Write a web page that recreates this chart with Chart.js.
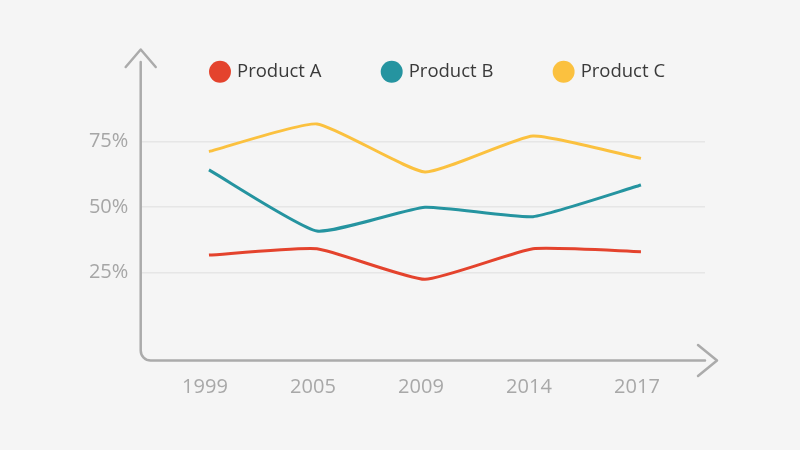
<!DOCTYPE html>
<html>
<head>
<meta charset="utf-8">
<script src="https://cdn.jsdelivr.net/npm/chart.js@4.4.1/dist/chart.umd.min.js"></script>
<style>
  html, body { margin: 0; padding: 0; background: #f5f5f5; }
  #wrap { width: 800px; height: 450px; }
</style>
</head>
<body>
<div id="wrap"><canvas id="c" width="800" height="450"></canvas></div>
<script>
const years = ['1999', '2005', '2009', '2014', '2017'];
const seriesNames = ['Product A', 'Product B', 'Product C'];
const productA = [31.6, 34.0, 22.3, 34.0, 32.9];
const productB = [64.2, 40.8, 49.9, 46.3, 58.4];
const productC = [71.2, 81.8, 63.4, 77.2, 68.6];
const yTickValues = [25, 50, 75];
const colors = ['#e4432d', '#2594a0', '#fbc13f'];

const seriesValues = [productA, productB, productC];

Chart.defaults.font.family = "'Open Sans', 'Noto Sans', sans-serif";

const axisArrows = {
  id: 'axisArrows',
  beforeInit(chart) {
    const lg = chart.legend;
    if (lg) {
      const f = lg.fit;
      lg.fit = function () { f.call(this); this.height = 100; };
    }
  },
  afterLayout(chart) {
    const lg = chart.legend;
    if (lg && lg.lineWidths) {
      const pad = lg.options.labels.padding;
      const bw = 15.5;
      const targetStart = 220 - bw / 2;
      lg.right = 800;
      lg.left = 2 * targetStart - pad - lg.right + lg.lineWidths[0];
    }
  },
  beforeDatasetsDraw(chart) {
    const { ctx, chartArea } = chart;
    const L = chartArea.left, B = chartArea.bottom + 0.5, R = chartArea.right;
    const r = 10;
    ctx.save();
    ctx.strokeStyle = '#ababab';
    ctx.lineWidth = 2.5;
    ctx.lineCap = 'round';
    ctx.lineJoin = 'round';
    ctx.beginPath();
    ctx.moveTo(L, 62);
    ctx.lineTo(L, B - r);
    ctx.arcTo(L, B, L + r, B, r);
    ctx.lineTo(R, B);
    ctx.stroke();
    // vertical arrow head
    ctx.beginPath();
    ctx.moveTo(L - 15, 67);
    ctx.lineTo(L, 49.5);
    ctx.lineTo(L + 15, 67);
    ctx.stroke();
    // horizontal arrow head
    ctx.beginPath();
    ctx.moveTo(R - 7, B - 15.5);
    ctx.lineTo(R + 12, B);
    ctx.lineTo(R - 7, B + 15.5);
    ctx.stroke();
    ctx.restore();
  }
};

new Chart(document.getElementById('c'), {
  type: 'line',
  data: {
    datasets: seriesNames.map((name, k) => ({
      label: name,
      data: seriesValues[k].map((v, i) => ({ x: i, y: v })),
      borderColor: colors[k],
      backgroundColor: colors[k],
      borderWidth: 3,
      pointRadius: 0,
      pointHoverRadius: 0,
      tension: 0.15,
      fill: false
    }))
  },
  options: {
    responsive: false,
    animation: false,
    events: [],
    layout: { padding: { left: 0, right: 95, top: 0, bottom: 0 } },
    scales: {
      x: {
        type: 'linear',
        min: -0.632,
        max: 4.593,
        afterFit(scale) { scale.height = 90; },
        afterBuildTicks(scale) { scale.ticks = years.map((_, i) => ({ value: i })); },
        grid: { display: false, drawTicks: false },
        border: { display: false },
        ticks: {
          callback: (v) => years[v],
          color: '#a8a8a8',
          font: { size: 20 },
          padding: 15,
          labelOffset: -4,
          maxRotation: 0,
          autoSkip: false
        }
      },
      y: {
        type: 'linear',
        min: -8.58,
        max: 90.96,
        afterFit(scale) { scale.width = 140.7; },
        afterBuildTicks(scale) { scale.ticks = yTickValues.map(v => ({ value: v })); },
        grid: { color: '#e6e6e6', lineWidth: 1.5, drawTicks: false },
        border: { display: false },
        ticks: {
          callback: (v) => v + '%',
          color: '#a6a6a6',
          font: { size: 20 },
          padding: 12.4
        }
      }
    },
    plugins: {
      tooltip: { enabled: false },
      legend: {
        display: true,
        position: 'top',
        labels: {
          usePointStyle: true,
          pointStyle: 'circle',
          boxHeight: 15.5,
          boxWidth: 15.5,
          padding: 62.5,
          color: '#3a3a3a',
          font: { size: 18.5 },
          generateLabels(chart) {
            return Chart.defaults.plugins.legend.labels.generateLabels(chart).map(l => Object.assign(l, { lineWidth: 0, pointStyle: 'circle' }));
          }
        }
      }
    }
  },
  plugins: [axisArrows]
});
</script>
</body>
</html>
